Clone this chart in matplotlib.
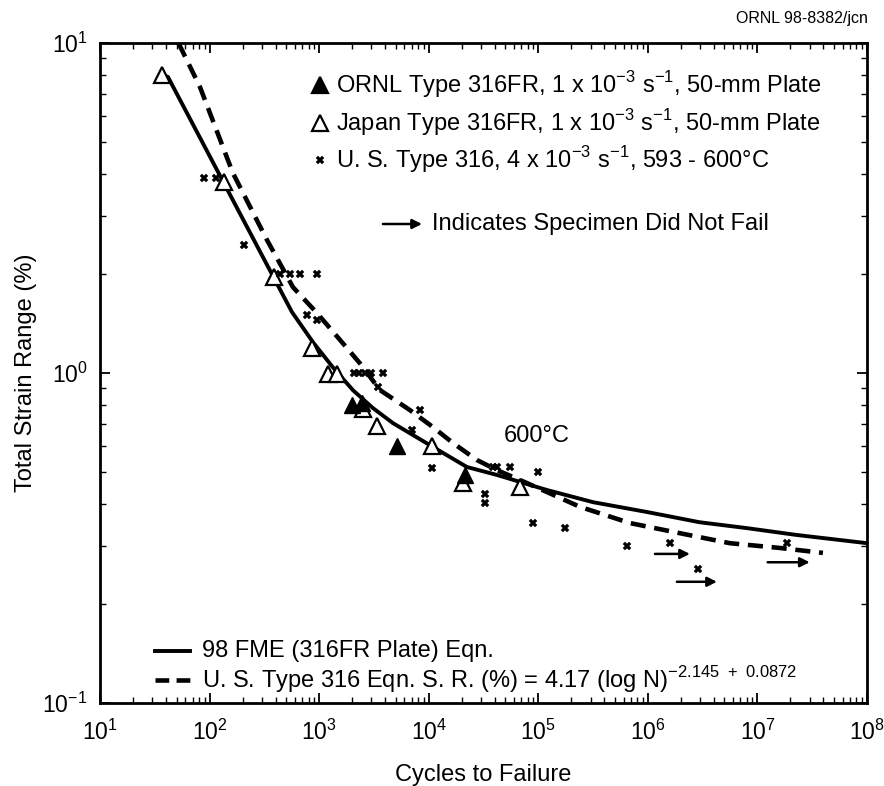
import matplotlib
matplotlib.use("Agg")
import matplotlib.pyplot as plt
import numpy as np

plt.rcParams['font.family'] = ['Liberation Sans', 'DejaVu Sans']
plt.rcParams['mathtext.fontset'] = 'custom'
plt.rcParams['mathtext.rm'] = 'Liberation Sans'

# ---- data ----
ornl_N = [2000, 2450, 5100, 21500]
ornl_sr = [0.80, 0.81, 0.60, 0.49]

japan_N = [37, 135, 390, 860, 1200, 1450, 2500, 3350, 10700, 20500, 68000]
japan_sr = [8.0, 3.8, 1.95, 1.19, 0.99, 0.99, 0.78, 0.69, 0.60, 0.465, 0.45]

us_N = [89, 115, 205, 440, 540, 670, 955, 775, 950,
        2100, 2300, 2600, 3000, 3800, 3440, 8300, 7000, 10700,
        32500, 32500, 38500, 42000, 55000, 100000, 90000, 175000,
        650000, 1.6e6, 2.86e6, 1.86e7]
us_sr = [3.9, 3.9, 2.45, 2.0, 2.0, 2.0, 2.0, 1.5, 1.45,
         1.0, 1.0, 1.0, 1.0, 1.0, 0.91, 0.77, 0.67, 0.515,
         0.43, 0.405, 0.52, 0.52, 0.52, 0.50, 0.35, 0.34,
         0.30, 0.305, 0.255, 0.305]

# run-outs (did not fail): arrow tail N, head N, strain range
runout_tail = [1.16e6, 1.84e6, 1.24e7]
runout_head = [2.42e6, 4.27e6, 3.0e7]
runout_sr = [0.283, 0.233, 0.267]

fme_N = [37, 41.7, 387, 565, 878, 1336, 2034, 3096, 4713, 10920, 22300,
         41900, 120000, 316000, 986000, 2.96e6, 7.9e6, 2.28e7, 1e8]
fme_sr = [8.0, 7.89, 1.94, 1.53, 1.24, 1.04, 0.887, 0.783, 0.705, 0.597, 0.519,
          0.491, 0.442, 0.406, 0.379, 0.353, 0.339, 0.323, 0.305]

us_eq_N = [52, 81.7, 163, 334, 577, 955, 1549, 2356, 3587, 6734, 10900,
           16600, 27500, 41900, 78700, 240000, 686000, 1.96e6, 5.6e6, 1.6e7, 3.96e7]
us_eq_sr = [10.0, 7.36, 4.04, 2.53, 1.82, 1.52, 1.26, 1.07, 0.888, 0.772, 0.686,
            0.614, 0.545, 0.508, 0.464, 0.393, 0.351, 0.327, 0.305, 0.295, 0.285]

# ---- figure ----
fig = plt.figure(figsize=(8.84, 7.86), dpi=100)
ax = fig.add_axes([100/884, 1-703/786, 767/884, 660/786])
ax.set_xscale('log')
ax.set_yscale('log')
ax.set_xlim(10, 1e8)
ax.set_ylim(0.1, 10)

ax.plot(fme_N, fme_sr, color='black', lw=2.8, solid_capstyle='butt')
ax.plot(us_eq_N, us_eq_sr, color='black', lw=3.3, dashes=(3.3, 1.9))

ax.plot(japan_N, japan_sr, linestyle='none', marker='^', markersize=11,
        markerfacecolor='white', markeredgecolor='black', markeredgewidth=1.6, zorder=4)
ax.plot(ornl_N, ornl_sr, linestyle='none', marker='^', markersize=11,
        markerfacecolor='black', markeredgecolor='black', zorder=5)
ax.plot(us_N, us_sr, linestyle='none', marker='X', markersize=5.5,
        markerfacecolor='black', markeredgecolor='black', markeredgewidth=0.3, zorder=5)

for t, h, s in zip(runout_tail, runout_head, runout_sr):
    ax.annotate('', xy=(h, s), xytext=(t, s),
                arrowprops=dict(arrowstyle='-|>', color='black', lw=1.8,
                                mutation_scale=14, shrinkA=0, shrinkB=0))

# spines / ticks
for sp in ax.spines.values():
    sp.set_linewidth(2.0)
ax.tick_params(which='both', direction='in', top=True, right=True, labelsize=16.5)
ax.tick_params(axis='x', pad=12)
ax.tick_params(axis='y', pad=9)
ax.tick_params(which='major', length=7, width=1.3)
ax.tick_params(which='minor', length=4, width=1.0)
ax.xaxis.set_minor_locator(matplotlib.ticker.LogLocator(base=10, subs=np.arange(2, 10), numticks=20))
ax.yaxis.set_minor_locator(matplotlib.ticker.LogLocator(base=10, subs=np.arange(2, 10), numticks=20))
ax.yaxis.set_minor_formatter(matplotlib.ticker.NullFormatter())
ax.xaxis.set_minor_formatter(matplotlib.ticker.NullFormatter())

ax.set_xlabel('Cycles to Failure', fontsize=17, labelpad=14)
ax.set_ylabel('Total Strain Range (%)', fontsize=17, labelpad=4)

# upper legend (drawn as text with marker samples)
fs = 17
def row(yf, marker, mfc, text):
    ax.plot([(320-100)/767], [yf], transform=ax.transAxes, marker=marker,
            markersize=11 if marker == '^' else 5.5,
            markerfacecolor=mfc, markeredgecolor='black',
            markeredgewidth=1.6 if marker == '^' else 0.3,
            linestyle='none', clip_on=False)
    ax.text((336-100)/767, yf, text, transform=ax.transAxes, fontsize=fs, va='center', ha='left')

row(1-(85-43)/660, '^', 'black', r'ORNL Type 316FR, 1 x 10$^{-3}$ s$^{-1}$, 50-mm Plate')
row(1-(123-43)/660, '^', 'white', r'Japan Type 316FR, 1 x 10$^{-3}$ s$^{-1}$, 50-mm Plate')
row(1-(160-43)/660, 'X', 'black', r'U. S. Type 316, 4 x 10$^{-3}$ s$^{-1}$, 593 - 600°C')

ya = 1-(224-43)/660
ax.annotate('', xy=((422-100)/767, ya), xytext=((383-100)/767, ya), xycoords='axes fraction',
            arrowprops=dict(arrowstyle='-|>', color='black', lw=1.8, mutation_scale=14,
                            shrinkA=0, shrinkB=0))
ax.text((432-100)/767, ya, 'Indicates Specimen Did Not Fail', transform=ax.transAxes,
        fontsize=fs, va='center', ha='left')

ax.text((537-100)/767, 1-(436-43)/660, '600°C', transform=ax.transAxes, fontsize=fs,
        va='center', ha='center')

# lower legend
y1 = 1-(651-43)/660
y2 = 1-(680-43)/660
x0, x1 = (155-100)/767, (190-100)/767
ax.plot([x0, x1], [y1, y1], transform=ax.transAxes, color='black', lw=2.8)
ax.plot([x0, x1], [y2, y2], transform=ax.transAxes, color='black', lw=3.3, dashes=(3.0, 1.6))
ax.text((202-100)/767, y1, '98 FME (316FR Plate) Eqn.', transform=ax.transAxes,
        fontsize=fs, va='center', ha='left')
ax.text((202-100)/767, y2, r'U. S. Type 316 Eqn. S. R. (%) = 4.17 (log N)$^{-2.145\ +\ 0.0872}$',
        transform=ax.transAxes, fontsize=fs, va='center', ha='left')

fig.text(868/884, 1-18/786, 'ORNL 98-8382/jcn', fontsize=11.5, ha='right', va='center')

fig.savefig('out.png', dpi=100)
